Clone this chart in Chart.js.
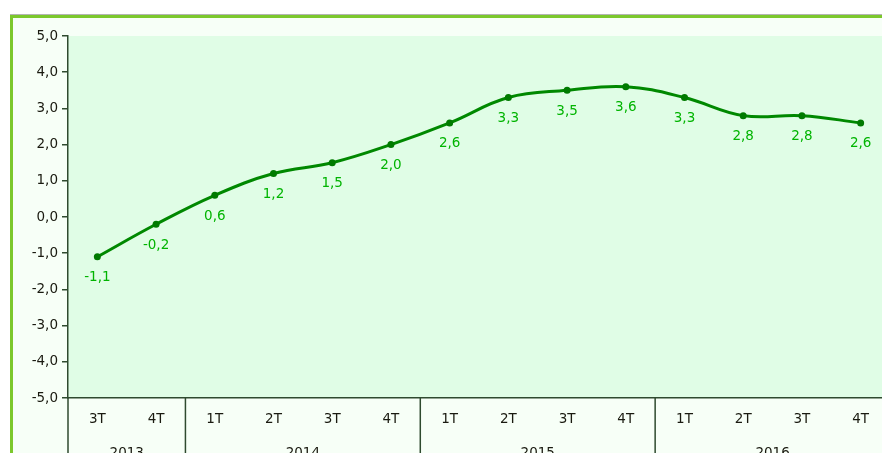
<!DOCTYPE html>
<html>
<head>
<meta charset="utf-8">
<script src="https://cdn.jsdelivr.net/npm/chart.js@4/dist/chart.umd.min.js"></script>
<style>
  html, body { margin: 0; padding: 0; background: #ffffff; overflow: hidden; width: 882px; height: 453px; }
  #frameGray { position: absolute; left: 10px; top: 14px; width: 900px; height: 1px; background: #b4b4b4; }
  #frame { position: absolute; left: 10px; top: 15px; width: 900px; height: 460px; border-top: 3px solid #7cc82c; border-left: 3px solid #7cc82c; background: #f7fff7; }
  #wrap { position: absolute; left: 0; top: 0; width: 894px; height: 453px; }
</style>
</head>
<body>
<div id="frameGray"></div>
<div id="frame"></div>
<div id="wrap"><canvas id="c" width="894" height="453"></canvas></div>
<script>
const quarters = ['3T','4T','1T','2T','3T','4T','1T','2T','3T','4T','1T','2T','3T','4T'];
const years = ['2013','2014','2015','2016'];
const yearSpans = [2, 4, 4, 4];
const values = [-1.1, -0.2, 0.6, 1.2, 1.5, 2.0, 2.6, 3.3, 3.5, 3.6, 3.3, 2.8, 2.8, 2.6];
const yMin = -5, yMax = 5, yStep = 1;

const fmt = v => v.toFixed(1).replace('.', ',');
const FONT = 'DejaVu Sans';

const bgPlugin = {
  id: 'bg',
  beforeDraw(chart) {
    const {ctx, chartArea: a} = chart;
    ctx.save();
    ctx.fillStyle = '#e0fde6';
    ctx.fillRect(a.left, a.top, a.right - a.left, a.bottom - a.top);
    ctx.restore();
  }
};

const labelsPlugin = {
  id: 'vals',
  afterDatasetsDraw(chart) {
    const {ctx} = chart;
    const meta = chart.getDatasetMeta(0);
    ctx.save();
    ctx.font = '13.5px "' + FONT + '"';
    ctx.fillStyle = '#00b400';
    ctx.textAlign = 'center';
    ctx.textBaseline = 'middle';
    meta.data.forEach((p, i) => {
      ctx.fillText(fmt(values[i]), p.x, p.y + 21);
    });
    ctx.restore();
  }
};

const yearPlugin = {
  id: 'years',
  afterDraw(chart) {
    const {ctx, chartArea: a} = chart;
    const xs = chart.scales.x;
    const half = (xs.getPixelForValue(1) - xs.getPixelForValue(0)) / 2;
    ctx.save();
    ctx.strokeStyle = '#2f4a2f';
    ctx.lineWidth = 1.5;
    ctx.font = '13.5px "' + FONT + '"';
    ctx.fillStyle = '#1a1a10';
    ctx.textAlign = 'center';
    ctx.textBaseline = 'middle';
    let start = 0;
    yearSpans.forEach((n, k) => {
      const x0 = xs.getPixelForValue(start) - half;
      const x1 = xs.getPixelForValue(start + n - 1) + half;
      ctx.beginPath();
      ctx.moveTo(x0, a.bottom);
      ctx.lineTo(x0, chart.height);
      ctx.stroke();
      ctx.fillText(years[k], (x0 + x1) / 2, a.bottom + 55);
      start += n;
    });
    ctx.restore();
  }
};

new Chart(document.getElementById('c'), {
  type: 'line',
  data: {
    labels: quarters,
    datasets: [{
      data: values,
      borderColor: '#008800',
      backgroundColor: '#008800',
      borderWidth: 3,
      pointRadius: 3.5,
      pointBackgroundColor: '#007a00',
      pointBorderWidth: 0,
      tension: 0.4,
      fill: false
    }]
  },
  options: {
    responsive: false,
    animation: false,
    layout: { padding: { top: 36, right: 0, left: 0, bottom: 0 } },
    plugins: { legend: { display: false }, tooltip: { enabled: false } },
    scales: {
      x: {
        offset: true,
        afterFit: s => { s.height = 55; },
        grid: { display: false, drawTicks: false },
        border: { display: true, color: '#2f4a2f', width: 1.5 },
        ticks: { padding: 13, color: '#1a1a10', font: { family: FONT, size: 13.5 }, maxRotation: 0, autoSkip: false }
      },
      y: {
        min: yMin, max: yMax,
        afterFit: s => { s.width = 68; },
        grid: { drawOnChartArea: false, tickLength: 6, color: '#2f4a2f', lineWidth: 1.5 },
        border: { display: true, color: '#2f4a2f', width: 1.5 },
        ticks: { stepSize: yStep, padding: 4, color: '#1a1a10', font: { family: FONT, size: 13.5 }, callback: v => fmt(v) }
      }
    }
  },
  plugins: [bgPlugin, labelsPlugin, yearPlugin]
});
</script>
</body>
</html>
